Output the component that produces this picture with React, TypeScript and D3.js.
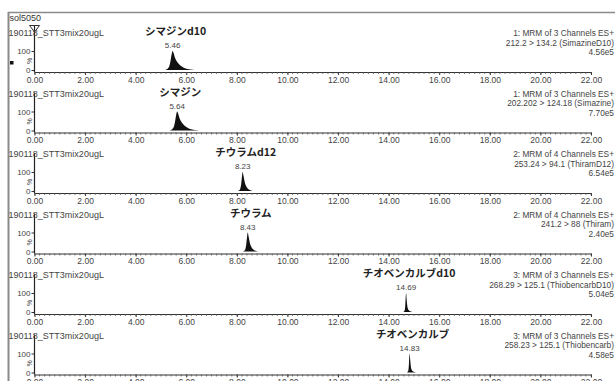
import { useEffect, useRef } from 'react';
import * as d3 from 'd3';

type Pt = [number, number];

const WIDTH = 615;
const HEIGHT = 381;

const fileName = 'sol5050';
const sampleName = '190118_STT3mix20ugL';
const compounds = ['シマジンd10', 'シマジン', 'チウラムd12', 'チウラム', 'チオベンカルブd10', 'チオベンカルブ'];
const retentionTimes = [5.46, 5.64, 8.23, 8.43, 14.69, 14.83];
const functionLabels = [
  '1: MRM of 3 Channels ES+',
  '1: MRM of 3 Channels ES+',
  '2: MRM of 4 Channels ES+',
  '2: MRM of 4 Channels ES+',
  '3: MRM of 3 Channels ES+',
  '3: MRM of 3 Channels ES+',
];
const transitions = [
  '212.2 > 134.2 (SimazineD10)',
  '202.202 > 124.18 (Simazine)',
  '253.24 > 94.1 (ThiramD12)',
  '241.2 > 88 (Thiram)',
  '268.29 > 125.1 (ThiobencarbD10)',
  '258.23 > 125.1 (Thiobencarb)',
];
const intensities = ['4.56e5', '7.70e5', '6.54e5', '2.40e5', '5.04e5', '4.58e5'];
const timeTicks = [0, 2, 4, 6, 8, 10, 12, 14, 16, 18, 20, 22];
const yTicks = [0, 100];

// traces: [retention time (min), relative intensity (%)]
const simazineD10: Pt[] = [
  [0, 0], [5.1, 0], [5.22, 3], [5.31, 14], [5.37, 42], [5.42, 82], [5.46, 100], [5.5, 88],
  [5.55, 66], [5.61, 49], [5.69, 34], [5.78, 22], [5.9, 12], [6.05, 5], [6.25, 1], [6.4, 0], [22, 0],
];
const simazine: Pt[] = [
  [0, 0], [5.28, 0], [5.4, 3], [5.49, 14], [5.55, 42], [5.6, 82], [5.64, 100], [5.68, 88],
  [5.73, 66], [5.79, 49], [5.87, 34], [5.96, 22], [6.08, 12], [6.23, 5], [6.43, 1], [6.58, 0], [22, 0],
];
const thiramD12: Pt[] = [
  [0, 0], [8.02, 0], [8.11, 5], [8.17, 35], [8.21, 85], [8.23, 100], [8.26, 82],
  [8.31, 48], [8.37, 25], [8.45, 11], [8.56, 3], [8.7, 0], [22, 0],
];
const thiram: Pt[] = [
  [0, 0], [8.22, 0], [8.31, 5], [8.37, 35], [8.41, 85], [8.43, 100], [8.46, 82],
  [8.51, 48], [8.57, 25], [8.65, 11], [8.76, 3], [8.9, 0], [22, 0],
];
const thiobencarbD10: Pt[] = [
  [0, 0], [14.58, 0], [14.63, 6], [14.66, 40], [14.68, 90], [14.69, 100], [14.71, 70],
  [14.74, 30], [14.78, 12], [14.85, 4], [14.95, 0], [22, 0],
];
const thiobencarb: Pt[] = [
  [0, 0], [14.72, 0], [14.77, 6], [14.8, 40], [14.82, 90], [14.83, 100], [14.85, 70],
  [14.88, 30], [14.92, 12], [14.99, 4], [15.09, 0], [22, 0],
];
const traces = [simazineD10, simazine, thiramD12, thiram, thiobencarbD10, thiobencarb];

const font = "'Liberation Sans', Arial, sans-serif";
const jpFont = "'Noto Sans CJK JP', 'Liberation Sans', sans-serif";

export default function App() {
  const svgRef = useRef<SVGSVGElement>(null);

  useEffect(() => {
    if (!svgRef.current) return;
    const svg = d3.select(svgRef.current);
    svg.selectAll('*').remove();

    const x = d3.scaleLinear().domain([0, 22]).range([34.5, 591]);

    // outer frame
    svg.append('line').attr('x1', 8).attr('x2', WIDTH).attr('y1', 12.5).attr('y2', 12.5)
      .attr('stroke', '#8a8a8a').attr('stroke-width', 1.5);
    svg.append('line').attr('x1', 8.5).attr('x2', 8.5).attr('y1', 12).attr('y2', HEIGHT)
      .attr('stroke', '#8a8a8a').attr('stroke-width', 2);

    svg.append('text').text(fileName).attr('x', 9.5).attr('y', 20.5)
      .attr('font-family', font).attr('font-size', 9).attr('fill', '#333');

    traces.forEach((trace, i) => {
      const base = 72 + i * 60.5;
      const y = d3.scaleLinear().domain([0, 100]).range([base - 2, base - 21]);
      const g = svg.append('g');

      const area = d3.area<Pt>()
        .x((d) => x(d[0]))
        .y0(y(0))
        .y1((d) => y(d[1]))
        .curve(d3.curveMonotoneX);
      g.append('path').datum(trace).attr('d', area).attr('fill', '#111');

      // x axis
      const xAxis = d3.axisBottom(x)
        .tickValues(timeTicks)
        .tickFormat((d) => (+d).toFixed(2))
        .tickSizeInner(3)
        .tickSizeOuter(0)
        .tickPadding(1.5);
      const ax = g.append('g').attr('transform', `translate(0,${base})`).call(xAxis);
      ax.select('.domain').attr('stroke', '#333');
      ax.selectAll('.tick line').attr('stroke', '#333');
      ax.selectAll('.tick text').attr('font-family', font).attr('font-size', 8.5).attr('fill', '#444');

      const minor = d3.range(0, 111).map((k) => k * 0.2);
      g.selectAll('line.minor').data(minor).join('line')
        .attr('class', 'minor')
        .attr('x1', (d) => x(d)).attr('x2', (d) => x(d))
        .attr('y1', base).attr('y2', base + 2)
        .attr('stroke', '#555').attr('stroke-width', 0.8);

      // y axis
      const yTop = i === 0 ? 25 : base - 40;
      g.append('line').attr('x1', 34.5).attr('x2', 34.5).attr('y1', yTop).attr('y2', base)
        .attr('stroke', '#222').attr('stroke-width', 1.2);
      const yAxis = d3.axisLeft(y).tickValues(yTicks).tickSizeInner(3).tickSizeOuter(0).tickPadding(1);
      const ay = g.append('g').attr('transform', 'translate(34.5,0)').call(yAxis);
      ay.select('.domain').remove();
      ay.selectAll('.tick line').attr('stroke', '#333');
      ay.selectAll('.tick text').attr('font-family', font).attr('font-size', 8).attr('fill', '#444');
      g.append('text').text('%')
        .attr('transform', `translate(30,${base - 11}) rotate(-90)`)
        .attr('text-anchor', 'middle').attr('dy', '0.35em')
        .attr('font-family', font).attr('font-size', 7).attr('fill', '#444');

      // labels
      g.append('text').text(sampleName).attr('x', 8.5).attr('y', base - 36)
        .attr('font-family', font).attr('font-size', 9).attr('fill', '#444');
      const rt = retentionTimes[i];
      g.append('text').text(compounds[i]).attr('x', x(rt) + 3).attr('y', base - 37)
        .attr('text-anchor', 'middle').attr('font-family', jpFont).attr('font-weight', 'bold')
        .attr('font-size', 10.5).attr('fill', '#222');
      g.append('text').text(rt.toFixed(2)).attr('x', x(rt)).attr('y', base - 24)
        .attr('text-anchor', 'middle').attr('font-family', font).attr('font-size', 8).attr('fill', '#444');

      [functionLabels[i], transitions[i], intensities[i]].forEach((t, k) => {
        g.append('text').text(t).attr('x', 614).attr('y', base - 36 + k * 9.5)
          .attr('text-anchor', 'end').attr('font-family', font).attr('font-size', 8.3).attr('fill', '#444');
      });
    });

    // scan marker on first trace
    svg.append('path').attr('d', 'M29.5,25.5 L39.5,25.5 L34.5,32 Z')
      .attr('fill', 'none').attr('stroke', '#333').attr('stroke-width', 1);
    svg.append('rect').attr('x', 10).attr('y', 61).attr('width', 3.5).attr('height', 3.5).attr('fill', '#111');
  }, []);

  return (
    <svg
      ref={svgRef}
      width={WIDTH}
      height={HEIGHT}
      style={{ position: 'absolute', left: 0, top: 0, display: 'block', background: '#fff' }}
    />
  );
}
